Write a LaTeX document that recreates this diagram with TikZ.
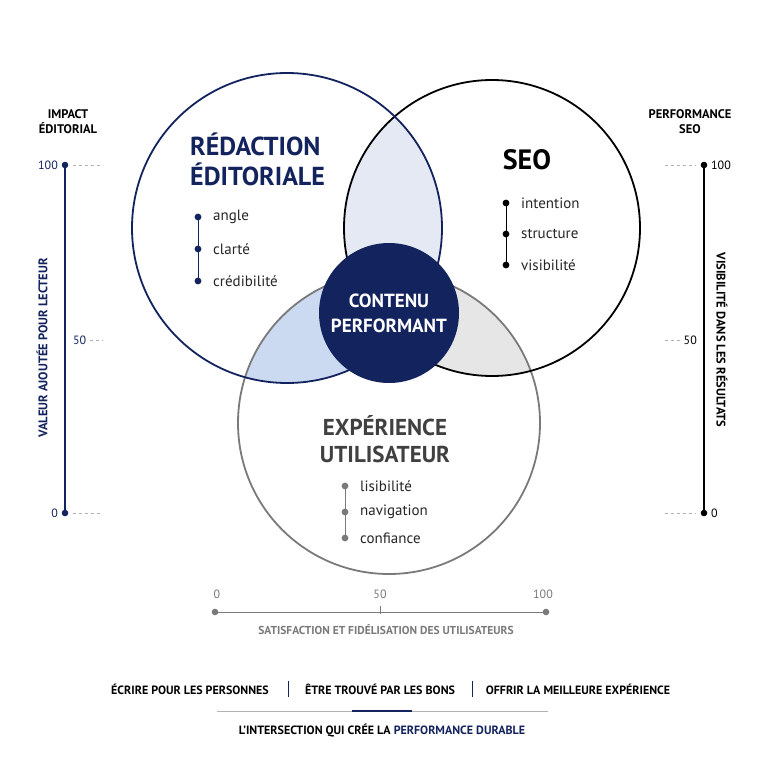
\documentclass[tikz,border=0pt]{standalone}
\usepackage{fontspec}
\setmainfont{PT Sans}
\begin{document}
\begin{tikzpicture}[x=1pt,y=-1pt,
  ttl/.style={font=\bfseries\fontsize{26}{30}\selectfont,align=left,inner sep=0},
  itm/.style={font=\fontsize{15}{17}\selectfont,anchor=west,inner sep=0},
  ax/.style={font=\bfseries\fontsize{12.5}{15}\selectfont,inner sep=0},
  num/.style={font=\fontsize{12}{14}\selectfont,inner sep=0},
  captxt/.style={font=\bfseries\fontsize{12}{15}\selectfont,inner sep=0}]
\definecolor{navy}{HTML}{13235E}
\definecolor{gr}{HTML}{7A7A7A}
\definecolor{lensA}{HTML}{E4E9F3}
\definecolor{lensB}{HTML}{CCDAF1}
\definecolor{lensC}{HTML}{E6E6E6}
\useasboundingbox (0,0) rectangle (768,768);
\fill[white] (0,0) rectangle (768,768);
\def\cL{(287,228) circle (155)}
\def\cR{(492,228) circle (148)}
\def\cB{(389,423) circle (151)}
\begin{scope}\clip \cL; \fill[lensA] \cR; \end{scope}
\begin{scope}\clip \cL; \fill[lensB] \cB; \end{scope}
\begin{scope}\clip \cR; \fill[lensC] \cB; \end{scope}
\draw[gr,line width=1.8] \cB;
\draw[black,line width=1.8] \cR;
\draw[navy,line width=1.8] \cL;
\node[circle,fill=navy,minimum size=140,inner sep=0] (core) at (389,313) {};
\node[text=white,font=\bfseries\fontsize{19}{25}\selectfont,align=center] at (core) {CONTENU\\PERFORMANT};
% titles
\node[ttl,text=navy,anchor=north west] (tL) at (190,133) {RÉDACTION\\ÉDITORIALE};
\node[ttl,text=black,font=\bfseries\fontsize{28}{30}\selectfont] (tR) at (527,160) {SEO};
\node[ttl,text=black!75,align=center,font=\bfseries\fontsize{23}{27}\selectfont] (tB) at (385,439) {EXPÉRIENCE\\UTILISATEUR};
% bullets
\foreach \c/\x/\ya/\yb/\yc/\a/\b/\cc in {navy/198/217/249/281/angle/clarté/crédibilité, black/506/203/234/265/intention/structure/visibilité, gr/345/486/512/538/lisibilité/navigation/confiance}{
  \coordinate (b1) at (\x,\ya); \coordinate (b3) at (\x,\yc);
  \draw[\c,line width=1] (b1) -- (b3);
  \foreach \yy/\t in {\ya/\a,\yb/\b,\yc/\cc}{
    \fill[\c] (\x,\yy) circle (3.4);
    \node[itm,text=black!85] at (\x+15,\yy) {\t};}
}
% left axis
\coordinate (l0) at (65,513); \coordinate (l1) at (65,165);
\draw[navy,line width=1.5] (l0) -- (l1);
\fill[navy] (l0) circle (3.3) (l1) circle (3.3);
\draw[black!30,dashed,line width=0.6] (73,165) -- (103,165) (90,340) -- (103,340) (73,513) -- (103,513);
\node[num,text=navy,anchor=east] at (58,165) {100};
\node[num,text=navy,anchor=west] at (73,340) {50};
\node[num,text=navy,anchor=east] at (58,513) {0};
\node[ax,text=navy,rotate=90] at (42,348) {VALEUR AJOUTÉE POUR LECTEUR};
\node[ax,align=center,text=black] at (68,122) {IMPACT\\ÉDITORIAL};
% right axis
\coordinate (r0) at (704,513); \coordinate (r1) at (704,165);
\draw[black,line width=1.5] (r0) -- (r1);
\fill[black] (r0) circle (3.3) (r1) circle (3.3);
\draw[black!30,dashed,line width=0.6] (665,165) -- (696,165) (665,340) -- (680,340) (665,513) -- (696,513);
\node[num,anchor=west] at (711,165) {100};
\node[num,anchor=east] at (697,340) {50};
\node[num,anchor=west] at (711,513) {0};
\node[ax,rotate=-90] at (722,340) {VISIBILITÉ DANS LES RÉSULTATS};
\node[ax,align=center] at (690,122) {PERFORMANCE\\SEO};
% bottom axis
\coordinate (h0) at (215,612); \coordinate (h1) at (546,612);
\draw[gr,line width=1] (h0) -- (h1);
\draw[gr] (380,606) -- (380,614);
\fill[gr] (h0) circle (3.3) (h1) circle (3.3);
\foreach \x/\t in {217/0,380/50,543/100}
  \node[num,text=gr] at (\x,594) {\t};
\node[captxt,text=gr,font=\bfseries\fontsize{11.5}{13}\selectfont] at (386,630) {SATISFACTION ET FIDÉLISATION DES UTILISATEURS};
% footer
\node[captxt] at (190,689) {ÉCRIRE POUR LES PERSONNES};
\node[captxt] at (380,689) {ÊTRE TROUVÉ PAR LES BONS};
\node[captxt] at (578,689) {OFFRIR LA MEILLEURE EXPÉRIENCE};
\draw[navy,line width=1] (288,681) -- (288,697) (472,681) -- (472,697);
\draw[black!30,line width=0.8] (217,711) -- (548,711);
\draw[navy,line width=2.5] (352,711) -- (412,711);
\node[captxt] at (382,731) {L’INTERSECTION QUI CRÉE LA \textcolor{navy}{PERFORMANCE DURABLE}};
\end{tikzpicture}
\end{document}
